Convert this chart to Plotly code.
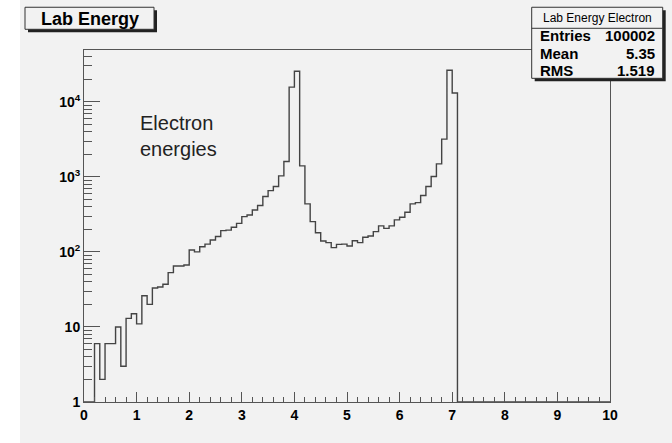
import numpy as np
import plotly.graph_objects as go

# ---- data ----
bin_edges = [round(0.1 * i, 1) for i in range(101)]
counts = [
    0, 0, 6, 2, 6, 6, 10, 3, 13, 15,
    11, 26, 20, 33, 34, 37, 53, 65, 65, 67,
    106, 100, 117, 127, 144, 160, 192, 195, 213, 240,
    295, 310, 362, 416, 546, 656, 742, 1030, 1600, 15700,
    25500, 1400, 436, 253, 180, 140, 133, 114, 126, 127,
    120, 141, 133, 157, 163, 186, 222, 206, 222, 267,
    290, 337, 436, 454, 563, 742, 1010, 1490, 3180, 26300,
    13100, 0, 0, 0, 0, 0, 0, 0, 0, 0,
    0, 0, 0, 0, 0, 0, 0, 0, 0, 0,
    0, 0, 0, 0, 0, 0, 0, 0, 0, 0,
]
x_ticks = list(range(0, 11))
y_ticks = [1, 10, 100, 1000, 10000]
y_ticktext = ["1", "10", "10<sup>2</sup>", "10<sup>3</sup>", "10<sup>4</sup>"]
y_minor = [m * 10 ** d for d in range(0, 5) for m in range(2, 10) if m * 10 ** d < 49000]
hist_title = "Lab Energy"
stats_name = "Lab Energy Electron"
stats_rows = [("Entries", "100002"), ("Mean", "5.35"), ("RMS", "1.519")]
label_text = "Electron<br>energies"

# ---- layout geometry (pixels) ----
W, H = 672, 443
L, R, T, B = 84, 610, 50, 401.7
YMIN = 1.0
YTOP_LOG = 4.69


def px(x):
    return (x - L) / (R - L)


def py(y):
    return (B - y) / (B - T)


BG = "#f2f2f2"
LINE = "#555555"
FONT = "Liberation Sans"

yplot = [c if c > 0 else YMIN for c in counts]
yplot = yplot + [yplot[-1]]

fig = go.Figure()
fig.add_trace(go.Scatter(
    x=bin_edges, y=yplot, mode="lines", line=dict(shape="hv", color="#444444", width=1.4),
    hoverinfo="skip", showlegend=False,
))

fig.update_layout(
    width=W, height=H,
    margin=dict(l=L, r=W - R, t=T, b=H - B),
    paper_bgcolor="white", plot_bgcolor=BG,
    showlegend=False,
    xaxis=dict(
        range=[0, 10], tickvals=x_ticks, ticks="inside", ticklen=10, tickcolor=LINE,
        showline=True, linecolor=LINE, linewidth=1, mirror=True, showgrid=False, zeroline=False,
        tickfont=dict(family=FONT, size=14, color="black", weight="bold"),
        minor=dict(dtick=0.2, ticks="inside", ticklen=5, tickcolor=LINE, showgrid=False),
    ),
    yaxis=dict(
        type="log", range=[0, YTOP_LOG], tickvals=y_ticks, ticktext=y_ticktext,
        ticks="inside", ticklen=16, tickcolor=LINE,
        showline=True, linecolor=LINE, linewidth=1, mirror=True, showgrid=False, zeroline=False,
        tickfont=dict(family=FONT, size=14, color="black", weight="bold"),
        minor=dict(tickmode="array", tickvals=y_minor, ticks="inside", ticklen=8,
                   tickcolor=LINE, showgrid=False),
    ),
)

shapes = []
# canvas gray area
shapes.append(dict(type="rect", xref="paper", yref="paper", x0=px(20), x1=px(W), y0=py(H), y1=py(0),
                   fillcolor=BG, line=dict(width=0), layer="below"))


def box(x0, y0, x1, y1):
    # shadow
    shapes.append(dict(type="rect", xref="paper", yref="paper", x0=px(x0 + 3), x1=px(x1 + 3),
                       y0=py(y1 + 3), y1=py(y0 + 3), fillcolor="#222222", line=dict(width=0), layer="above"))
    shapes.append(dict(type="rect", xref="paper", yref="paper", x0=px(x0), x1=px(x1),
                       y0=py(y1), y1=py(y0), fillcolor=BG, line=dict(color="#333333", width=1), layer="above"))


box(25, 7.3, 154, 29.3)
box(531.7, 7.3, 662.7, 78.3)
shapes.append(dict(type="line", xref="paper", yref="paper", x0=px(531.7), x1=px(662.7),
                   y0=py(28.3), y1=py(28.3), line=dict(color="#333333", width=1), layer="above"))
fig.update_layout(shapes=shapes)

ann = []
ann.append(dict(xref="paper", yref="paper", x=px(89.5), y=py(18.6), text=hist_title, showarrow=False,
                xanchor="center", yanchor="middle", font=dict(family=FONT, size=18, color="black", weight="bold")))
ann.append(dict(xref="paper", yref="paper", x=px(597), y=py(17.8), text=stats_name, showarrow=False,
                xanchor="center", yanchor="middle", font=dict(family=FONT, size=12, color="black")))
row_y = [35.3, 53.3, 70.7]
for (lab, val), yy in zip(stats_rows, row_y):
    ann.append(dict(xref="paper", yref="paper", x=px(537.5), y=py(yy), text=lab, showarrow=False,
                    xanchor="left", yanchor="middle", font=dict(family=FONT, size=15, color="black", weight="bold")))
    ann.append(dict(xref="paper", yref="paper", x=px(656.5), y=py(yy), text=val, showarrow=False,
                    xanchor="right", yanchor="middle", font=dict(family=FONT, size=15, color="black", weight="bold")))
ann.append(dict(xref="paper", yref="paper", x=px(138), y=py(110), text=label_text, showarrow=False,
                xanchor="left", yanchor="top", align="left",
                font=dict(family=FONT, size=20, color="#222222")))
fig.update_layout(annotations=ann)

fig.write_html("out.html")
